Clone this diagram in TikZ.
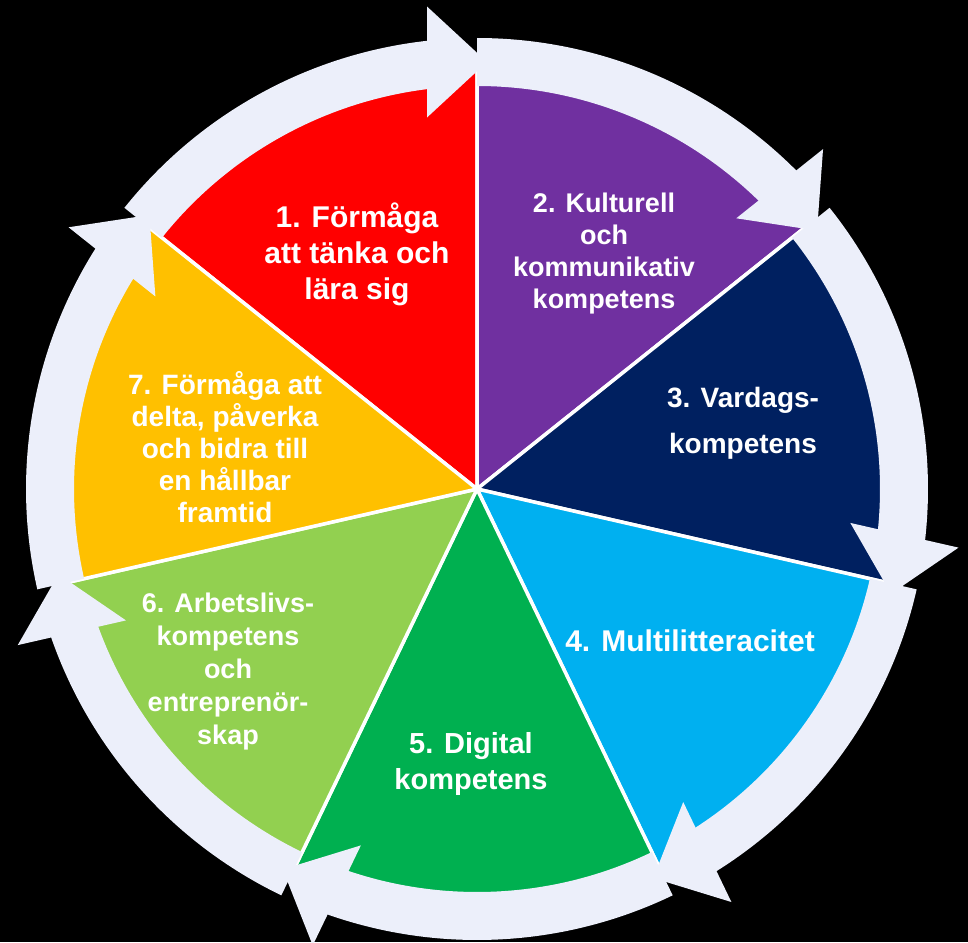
\documentclass[tikz,border=0pt]{standalone}
\usepackage{fontspec}
\setmainfont{Liberation Sans}
\usetikzlibrary{calc}
\definecolor{ringc}{RGB}{236,239,250}
\definecolor{c1}{RGB}{255,0,0}
\definecolor{c2}{RGB}{112,48,160}
\definecolor{c3}{RGB}{0,32,96}
\definecolor{c4}{RGB}{0,176,240}
\definecolor{c5}{RGB}{0,176,80}
\definecolor{c6}{RGB}{146,208,80}
\definecolor{c7}{RGB}{255,192,0}
\tikzset{
  lbl/.style={text=white, align=center, inner sep=0pt},
  sector/.style={draw=white, line width=3.5pt, line join=round},
  ringpart/.style={fill=ringc},
}
\newcommand{\fs}[2]{\bfseries\fontsize{#1}{#2}\selectfont}
\begin{document}
\begin{tikzpicture}[x=1pt,y=1pt]
\fill[black] (0,0) rectangle (968,-942);
\useasboundingbox (0,0) rectangle (968,-942);
\coordinate (C) at (477,-489);
\def\A{51.4285714}
% pie sectors
\foreach \k/\col in {1/c1,2/c2,3/c3,4/c4,5/c5,6/c6,7/c7}{
  \pgfmathsetmacro{\s}{90-(\k-1)*\A}
  \pgfmathsetmacro{\e}{\s+\A}
  \fill[\col, sector] (C) -- ($(C)+(\s:428)$) arc[start angle=\s, end angle=\e, radius=428] -- cycle;
}
% ring segments with arrowheads (clockwise)
\foreach \j in {0,...,6}{
  \pgfmathsetmacro{\s}{90-\j*\A}
  \pgfmathsetmacro{\t}{\s-\A}
  \pgfmathsetmacro{\e}{\t+5.5}
  \fill[ringpart] ($(C)+(\s:451)$) arc[start angle=\s, end angle=\e, radius=451]
     -- ($(C)+(\e:403)$) arc[start angle=\e, end angle=\s, radius=403] -- cycle;
  \fill[ringpart] ($(C)+(\t:427)+(\t+90:50)+(\t:55.5)$)
     -- ($(C)+(\t:427)+(\t-90:10)$)
     -- ($(C)+(\t:427)+(\t+90:50)+(\t+180:55.5)$) -- cycle;
}
% labels
\node[lbl, font=\fs{30}{36}] (t1) at (357,-254) {1. Förmåga\\att tänka och\\lära sig};
\node[lbl, font=\fs{27}{32}] (t2) at (604,-254) {2. Kulturell\\och\\kommunikativ\\kompetens};
\node[lbl, font=\fs{28}{34}] (t3) at (743,-423) {3. Vardags-\\[12pt]kompetens};
\node[lbl, font=\fs{30}{36}] (t4) at (690,-641) {4. Multilitteracitet};
\node[lbl, font=\fs{29}{36}] (t5) at (471,-764) {5. Digital\\kompetens};
\node[lbl, font=\fs{27}{33}] (t6) at (228,-672) {6. Arbetslivs-\\kompetens\\och\\entreprenör-\\skap};
\node[lbl, font=\fs{28}{32}] (t7) at (225,-447) {7. Förmåga att\\delta, påverka\\och bidra till\\en hållbar\\framtid};
\end{tikzpicture}
\end{document}
